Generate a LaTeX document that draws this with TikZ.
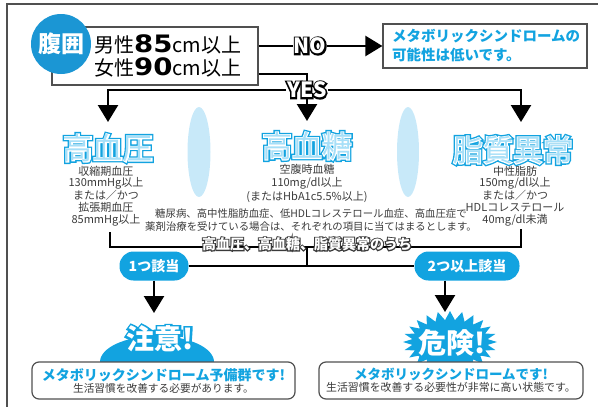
\documentclass[tikz,border=0pt]{standalone}
\usepackage{fontspec}
\setmainfont{Noto Sans CJK JP}
\newfontfamily\numfont{DejaVu Sans}[FakeStretch=1.15]
\newfontfamily\futoA{Noto Sans CJK JP}[FakeBold=15]
\newfontfamily\futoB{Noto Sans CJK JP}[FakeBold=6]
\usetikzlibrary{arrows.meta,shapes.symbols}

\definecolor{aoi}{HTML}{12A3E0}
\definecolor{koiao}{HTML}{1B96D4}
\definecolor{usuao}{HTML}{C8E9F9}
\definecolor{mizu}{HTML}{A6DFF8}
\definecolor{sumi}{HTML}{3A3A3A}
\definecolor{wakuiro}{HTML}{505050}

% outlined letters
\newcommand{\fuchi}[2]{\rlap{\futoA\bfseries\textcolor{#1}{#2}}\textcolor{white}{#2}}
\newcommand{\midashi}[1]{\rlap{\futoA\textcolor{aoi}{#1}}\rlap{\futoB\textcolor{white}{#1}}\textcolor{mizu}{#1}}
\newcommand{\suuji}[1]{{\numfont\bfseries\fontsize{24}{22}\selectfont #1}}

\tikzset{
  sen/.style={line width=2.4pt},
  ya/.style={sen, -{Triangle[width=20pt,length=17pt]}},
  hako/.style={draw=wakuiro, line width=1.2pt, fill=white},
  kekkahako/.style={hako, rounded corners=7pt, align=center},
  maru/.style={circle, fill=koiao, minimum size=60pt, inner sep=0, text=white,
    font=\bfseries\fontsize{23}{23}\selectfont},
  pill/.style={fill=aoi, rounded corners=14pt, minimum height=29pt, text=white,
    font=\bfseries\fontsize{14}{14}\selectfont},
  kijun/.style={text=sumi, align=center, inner sep=0, font=\fontsize{11}{11.8}\selectfont},
  midashimoji/.style={inner sep=0, font=\fontsize{30}{30}\selectfont},
  ookiimoji/.style={inner sep=0, font=\bfseries\fontsize{28}{28}\selectfont}
}

\begin{document}
\begin{tikzpicture}[x=1pt, y=-1pt]
  \useasboundingbox (0,0) rectangle (598,407);
  \draw[draw=wakuiro, line width=1.5pt] (7,412) |- (603,4);

  % waist
  \node[hako, minimum width=206pt, minimum height=58pt] (joken) at (155,56) {};
  \node[maru] (hara) at (61,44) {腹囲};
  \node[anchor=west, inner sep=0, text=black, font=\fontsize{20}{20}\selectfont]
    (danshi) at (94,44) {男性\suuji{85}cm以上};
  \node[anchor=west, inner sep=0, text=black, font=\fontsize{20}{20}\selectfont]
    (joshi) at (94,67) {女性\suuji{90}cm以上};

  \node[hako, minimum width=204pt, minimum height=44pt, text width=186pt, align=left,
    text=aoi, font=\bfseries\fontsize{14.5}{19}\selectfont] (kekka) at (485,46)
    {メタボリックシンドロームの\\可能性は低いです。};

  \node[inner sep=1pt, font=\bfseries\fontsize{21}{21}\selectfont] (no) at (310,46) {\fuchi{black}{NO}};
  \node[inner sep=1pt, font=\bfseries\fontsize{21}{21}\selectfont] (yes) at (307,90) {\fuchi{black}{YES}};

  \coordinate (yeskado) at (307,74);
  \coordinate (yaL) at (108,122);
  \coordinate (yaC) at (307,121);
  \coordinate (yaR) at (521,122);

  % three items
  \fill[usuao] (199,152) ellipse [x radius=11.5, y radius=45];
  \fill[usuao] (408,152) ellipse [x radius=11, y radius=45];

  \node[midashimoji] (atsu) at (108,148) {\midashi{高血圧}};
  \node[midashimoji] (tou) at (307,146) {\midashi{高血糖}};
  \node[midashimoji] (shishitsu) at (513,150) {\midashi{脂質異常}};

  \node[kijun] (atsukijun) at (106,196)
    {収縮期血圧\\130mmHg以上\\または／かつ\\拡張期血圧\\85mmHg以上};
  \node[kijun, font=\fontsize{11}{13.5}\selectfont] (toukijun) at (307,183)
    {空腹時血糖\\110mg/dl以上\\(またはHbA1c5.5\%以上)};
  \node[kijun] (shishitsukijun) at (515,196)
    {中性脂肪\\150mg/dl以上\\または／かつ\\HDLコレステロール\\40mg/dl未満};
  \node[kijun, font=\fontsize{10.4}{13}\selectfont] (bikou) at (311,220)
    {糖尿病、高中性脂肪血症、低HDLコレステロール血症、高血圧症で\\
     薬剤治療を受けている場合は、それぞれの項目に当てはまるとします。};

  \coordinate (kakkoL) at (110,232);
  \coordinate (kakkoM) at (307,247);
  \coordinate (kakkoR) at (521,229);

  % judgement
  \node[pill, minimum width=69pt] (gaitou1) at (154,266) {1つ該当};
  \node[pill, minimum width=105pt] (gaitou2) at (467,266) {2つ以上該当};
  \coordinate (chuuiya) at (154,313);
  \coordinate (kikenya) at (445,312);

  \begin{scope}
    \draw[sen] (joken.east |- no) -- (no);
    \draw[ya] (no) -- (kekka);
    \draw[sen] (joken.east |- yeskado) -- (yeskado) -- (yes);
    \draw[ya] (yes) -| (yaL);
    \draw[ya] (yes) -| (yaR);
    \draw[ya] (yes) -- (yaC);
    \draw[line width=2pt] (kakkoL) |- (kakkoM) -| (kakkoR);
    \draw[line width=2pt] (kakkoM) -- (gaitou1 -| kakkoM);
    \draw[line width=2pt] (gaitou1) -- (gaitou2);
    \draw[ya] (gaitou1) -- (chuuiya);
    \draw[ya] (gaitou2.south -| kikenya) -- (kikenya);
  \end{scope}

  \node[inner sep=1pt, font=\bfseries\fontsize{14}{14}\selectfont] (uchi) at (307,244)
    {\fuchi{sumi}{高血圧、高血糖、脂質異常のうち}};

  % results
  \fill[aoi] (157,362) ellipse [x radius=57, y radius=26];
  \node[starburst, starburst points=24, starburst point height=9pt, random starburst=0,
    fill=aoi, minimum width=94pt, minimum height=62pt] (hoshi) at (450,342) {};

  \node[kekkahako, minimum width=263pt, minimum height=37pt] (yobigun) at (163.5,380.5)
    {\textcolor{aoi}{\bfseries\fontsize{14}{19}\selectfont メタボリックシンドローム予備群です!}\\
     \textcolor{sumi}{\fontsize{10.7}{12}\selectfont 生活習慣を改善する必要があります。}};
  \node[kekkahako, minimum width=264pt, minimum height=37pt] (metabo) at (451,380.5)
    {\textcolor{aoi}{\bfseries\fontsize{13.5}{19}\selectfont メタボリックシンドロームです!}\\
     \textcolor{sumi}{\fontsize{10.9}{12}\selectfont 生活習慣を改善する必要性が非常に高い状態です。}};

  \node[ookiimoji] (chuui) at (160,339) {\fuchi{aoi}{注意!}};
  \node[ookiimoji] (kiken) at (452,343) {\fuchi{aoi}{危険!}};
\end{tikzpicture}
\end{document}
